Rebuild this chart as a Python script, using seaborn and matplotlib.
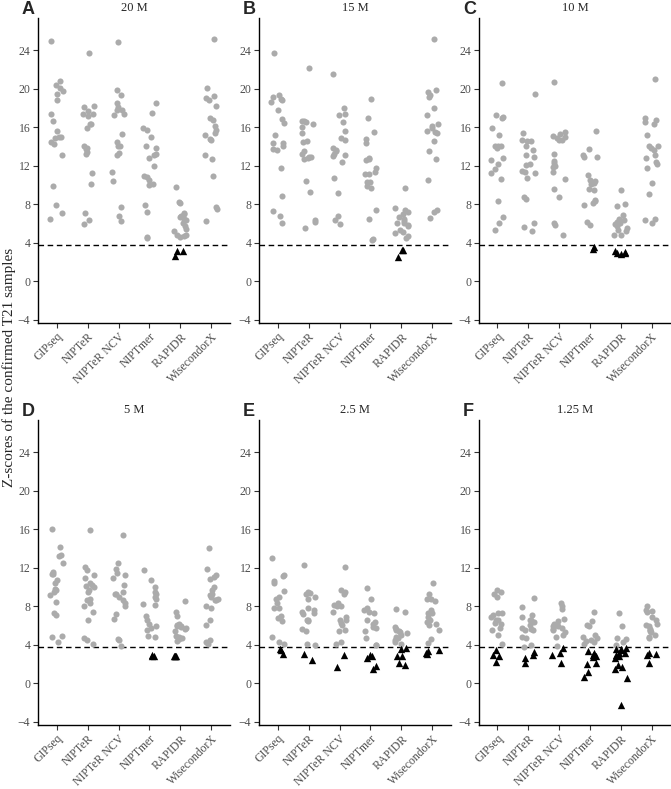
import numpy as np
import pandas as pd
import seaborn as sns
import matplotlib.pyplot as plt

methods = ['GIPseq', 'NIPTeR', 'NIPTeR NCV', 'NIPTmer', 'RAPIDR', 'WisecondorX']
depths = ['20 M', '15 M', '10 M', '5 M', '2.5 M', '1.25 M']
letters = ['A', 'B', 'C', 'D', 'E', 'F']
cutoff = 3.75

# Z-scores of the confirmed T21 samples, per method
z_20M = {
    'GIPseq': [25.0, 20.8, 20.4, 20.1, 19.8, 19.5, 18.8, 17.4, 16.7, 15.6, 15.0, 15.0, 14.9, 14.5, 14.3, 13.1, 9.9, 7.9, 7.1, 6.5],
    'NIPTeR': [23.7, 18.2, 18.1, 17.7, 17.4, 17.4, 17.2, 16.3, 16.3, 15.9, 14.0, 13.8, 13.7, 13.4, 13.2, 11.2, 10.1, 7.1, 6.4, 5.9],
    'NIPTeR NCV': [24.9, 19.9, 19.4, 18.5, 18.1, 17.8, 17.8, 17.4, 17.3, 15.3, 14.5, 14.1, 14.0, 13.3, 13.1, 11.4, 10.4, 7.7, 6.8, 6.3],
    'NIPTmer': [18.5, 17.5, 15.9, 15.7, 15.0, 14.1, 13.8, 13.2, 13.1, 12.8, 12.0, 10.9, 10.8, 10.5, 10.1, 10.0, 7.9, 7.2, 4.6, 4.5],
    'RAPIDR': [9.8, 8.2, 8.1, 7.1, 7.0, 6.8, 6.7, 6.5, 6.4, 6.1, 5.7, 5.4, 5.2, 4.8, 4.8, 4.6, 4.7, 3.1, 3.1, 2.6],
    'WisecondorX': [25.2, 20.1, 19.2, 19.0, 18.8, 18.2, 17.0, 16.8, 16.1, 15.7, 15.4, 15.2, 14.8, 14.7, 13.1, 12.7, 10.9, 7.7, 7.5, 6.3],
}
z_15M = {
    'GIPseq': [23.7, 19.4, 19.1, 18.9, 18.8, 18.6, 17.8, 16.9, 16.4, 15.2, 14.4, 14.4, 14.0, 13.7, 13.6, 11.8, 8.9, 7.3, 6.8, 6.1],
    'NIPTeR': [22.2, 16.7, 16.6, 16.5, 16.3, 16.0, 15.4, 14.6, 14.5, 13.5, 13.2, 12.9, 12.9, 12.8, 12.7, 10.4, 9.3, 6.4, 6.2, 5.5],
    'NIPTeR NCV': [21.5, 18.0, 17.4, 17.3, 16.5, 15.6, 14.9, 14.7, 13.8, 13.6, 13.5, 13.2, 13.1, 13.0, 12.4, 10.7, 9.2, 6.8, 6.4, 5.9],
    'NIPTmer': [18.9, 17.0, 15.5, 14.8, 14.4, 12.8, 12.7, 12.6, 11.8, 11.4, 11.1, 11.1, 10.3, 10.3, 9.9, 9.7, 7.4, 6.5, 4.4, 4.3],
    'RAPIDR': [9.7, 7.6, 7.4, 7.2, 7.0, 6.7, 6.5, 6.3, 6.1, 6.0, 5.8, 5.7, 5.3, 5.1, 5.0, 4.7, 4.5, 3.2, 3.2, 2.5],
    'WisecondorX': [25.2, 19.9, 19.7, 19.3, 19.1, 18.0, 17.3, 16.3, 16.1, 15.9, 15.6, 15.5, 15.4, 14.6, 13.5, 12.7, 10.5, 7.4, 7.2, 6.6],
}
z_10M = {
    'GIPseq': [20.6, 17.3, 17.1, 17.0, 15.9, 15.2, 14.1, 14.0, 14.0, 13.8, 12.8, 12.6, 12.2, 11.7, 11.2, 10.6, 8.3, 6.7, 6.1, 5.3],
    'NIPTeR': [19.5, 15.4, 14.7, 14.6, 14.6, 14.0, 13.6, 13.1, 12.9, 12.2, 12.1, 11.5, 11.3, 11.2, 10.7, 8.8, 8.5, 6.0, 5.6, 5.2],
    'NIPTeR NCV': [20.7, 15.5, 15.3, 15.1, 15.0, 14.9, 14.7, 14.7, 13.2, 12.5, 12.3, 12.0, 11.9, 11.3, 10.6, 9.6, 8.7, 6.0, 5.8, 4.8],
    'NIPTmer': [15.6, 13.7, 13.1, 12.9, 12.9, 11.0, 10.5, 10.4, 10.2, 10.1, 9.6, 9.5, 8.4, 8.3, 8.1, 7.9, 6.2, 5.8, 3.6, 3.4],
    'RAPIDR': [9.5, 8.0, 7.8, 6.9, 6.5, 6.4, 6.2, 6.0, 5.9, 5.7, 5.5, 5.3, 5.2, 4.8, 4.8, 3.1, 3.0, 2.9, 2.9, 2.8],
    'WisecondorX': [21.0, 17.0, 16.8, 16.5, 16.3, 15.2, 14.0, 14.0, 13.8, 13.6, 13.1, 12.8, 12.4, 12.2, 11.8, 10.2, 9.1, 6.5, 6.4, 6.0],
}
z_5M = {
    'GIPseq': [16.0, 14.2, 13.3, 13.2, 12.5, 11.6, 11.4, 11.4, 10.7, 10.4, 9.8, 9.7, 9.5, 9.2, 8.4, 7.3, 7.1, 4.9, 4.8, 4.3],
    'NIPTeR': [15.9, 12.1, 11.8, 11.2, 10.9, 10.4, 10.2, 10.1, 10.0, 9.7, 9.5, 8.8, 8.6, 8.3, 8.0, 7.4, 6.6, 4.7, 4.5, 4.1],
    'NIPTeR NCV': [15.4, 12.5, 11.9, 11.5, 11.2, 10.9, 10.2, 9.5, 9.3, 9.3, 9.0, 8.6, 8.3, 8.0, 7.2, 6.7, 4.6, 4.5, 3.85],
    'NIPTmer': [11.8, 10.7, 10.0, 9.5, 9.3, 9.0, 8.7, 8.2, 8.1, 7.0, 6.6, 6.2, 5.9, 5.7, 5.5, 4.9, 4.8, 2.8, 2.8, 2.9],
    'RAPIDR': [8.5, 7.4, 7.0, 6.2, 6.1, 5.9, 5.9, 5.8, 5.7, 5.6, 5.4, 4.9, 4.8, 4.7, 4.6, 4.4, 2.8, 2.8, 2.8, 2.8],
    'WisecondorX': [14.1, 11.9, 11.2, 11.0, 10.8, 10.0, 9.7, 9.3, 9.2, 9.0, 8.8, 8.6, 8.6, 8.0, 7.8, 6.6, 6.1, 4.5, 4.3, 4.1],
}
z_2_5M = {
    'GIPseq': [13.0, 11.2, 11.1, 10.6, 10.4, 9.6, 9.0, 8.7, 8.3, 7.8, 7.8, 7.0, 6.8, 6.5, 4.8, 4.3, 4.1, 3.6, 3.5, 3.0],
    'NIPTeR': [12.3, 9.5, 9.4, 9.3, 9.0, 8.7, 7.8, 7.6, 7.4, 7.3, 7.2, 6.6, 6.6, 6.5, 5.6, 5.4, 4.1, 4.0, 3.0, 2.4],
    'NIPTeR NCV': [12.1, 9.7, 9.5, 9.3, 8.3, 8.1, 8.0, 8.0, 7.4, 6.9, 6.6, 6.6, 6.3, 6.1, 5.5, 5.4, 4.3, 4.1, 2.9, 1.7],
    'NIPTmer': [9.9, 8.7, 7.8, 7.6, 7.4, 7.3, 6.6, 6.4, 6.2, 5.8, 5.7, 5.4, 4.7, 4.0, 4.0, 2.9, 2.8, 2.6, 1.8, 1.5],
    'RAPIDR': [7.7, 7.4, 5.8, 5.6, 5.5, 5.4, 5.3, 5.2, 5.0, 4.8, 4.7, 4.5, 4.3, 4.1, 3.7, 3.6, 2.8, 2.8, 2.1, 1.9],
    'WisecondorX': [10.4, 9.3, 8.7, 8.7, 8.5, 7.6, 7.3, 7.3, 6.9, 6.6, 6.4, 6.2, 6.1, 5.5, 4.6, 4.2, 3.5, 3.4, 3.1, 3.0],
}
z_1_25M = {
    'GIPseq': [9.7, 9.5, 9.3, 9.0, 7.3, 7.3, 7.1, 6.9, 6.6, 6.6, 6.3, 6.2, 5.7, 5.5, 5.0, 4.1, 3.5, 2.9, 2.8, 2.2],
    'NIPTeR': [8.9, 7.9, 7.1, 6.9, 6.6, 6.6, 6.4, 6.1, 5.7, 5.6, 5.5, 5.5, 4.8, 4.7, 4.0, 3.8, 3.2, 2.9, 2.6, 2.1],
    'NIPTeR NCV': [8.3, 8.0, 7.7, 6.7, 6.5, 6.2, 6.1, 5.9, 5.9, 5.7, 5.6, 5.5, 5.3, 5.0, 4.8, 3.9, 3.7, 3.1, 2.9, 2.1],
    'NIPTmer': [7.4, 6.5, 6.1, 5.9, 5.0, 4.8, 4.7, 4.5, 4.4, 4.3, 4.1, 3.4, 3.1, 2.9, 2.8, 2.7, 2.1, 2.0, 1.2, 0.6],
    'RAPIDR': [7.3, 5.9, 4.7, 4.6, 4.3, 4.0, 3.7, 3.6, 3.6, 3.5, 3.1, 3.1, 2.9, 2.8, 2.6, 1.9, 1.7, 1.5, 0.5, -2.3],
    'WisecondorX': [8.0, 7.6, 7.5, 7.4, 6.9, 6.6, 6.2, 6.1, 5.9, 5.6, 5.5, 5.4, 5.3, 5.0, 4.8, 4.7, 3.1, 3.0, 2.9, 2.1],
}
panels = [z_20M, z_15M, z_10M, z_5M, z_2_5M, z_1_25M]

sns.set_style('ticks')
plt.rcParams['font.family'] = ['Liberation Serif', 'DejaVu Serif']

fig = plt.figure(figsize=(6.71, 7.89), dpi=100)
W, H = 671, 789
lefts = [38, 259, 479]
tops = [18, 420]
aw, ah = 192, 305

np.random.seed(7)
for i, (zd, depth, letter) in enumerate(zip(panels, depths, letters)):
    row, col = divmod(i, 3)
    x0, y0 = lefts[col], tops[row]
    ax = fig.add_axes([x0 / W, 1 - (y0 + ah) / H, (min(x0 + aw, W - 1) - x0) / W, ah / H])

    df = pd.DataFrame([(m, v) for m in methods for v in zd[m]], columns=['method', 'z'])
    hi = df[df['z'] >= cutoff]
    lo = df[df['z'] < cutoff]
    sns.stripplot(data=hi, x='method', y='z', order=methods, color='#ABABAB',
                  marker='o', size=4.4, jitter=0.22, linewidth=0, ax=ax)
    sns.stripplot(data=lo, x='method', y='z', order=methods, color='black',
                  marker='^', size=5.3, jitter=0.22, linewidth=0, ax=ax)
    ax.axhline(cutoff, color='black', lw=1.0, ls=(0, (4, 2.6)), zorder=0)

    ax.set_xlim(-0.6, 5.6)
    ax.set_ylim(-4.34, 27.35)
    ax.set_yticks([-4, 0, 4, 8, 12, 16, 20, 24])
    ax.set_xticks(range(len(methods)))
    ax.set_xticklabels(methods, rotation=45, ha='right', va='top', rotation_mode='anchor')
    ax.set_xlabel('')
    ax.set_ylabel('')
    ax.tick_params(axis='both', labelsize=8.5, labelcolor='#4D4D4D', color='#333333',
                   length=3.5, width=0.8, pad=2)
    sns.despine(ax=ax)
    for s in ['left', 'bottom']:
        ax.spines[s].set_linewidth(1.0)
        ax.spines[s].set_color('black')

    fig.text((x0 + aw / 2) / W, 1 - (y0 - 10) / H, depth, ha='center', va='center', fontsize=9)
    fig.text((x0 - 16) / W, 1 - (y0 - 9) / H, letter, ha='left', va='center', fontsize=13,
             fontweight='bold', family=['Liberation Sans', 'DejaVu Sans'])

fig.text(9 / W, 1 - 367 / H, 'Z-scores of the confirmed T21 samples', rotation=90,
         ha='center', va='center', fontsize=11)

fig.savefig('out.png', dpi=100)
